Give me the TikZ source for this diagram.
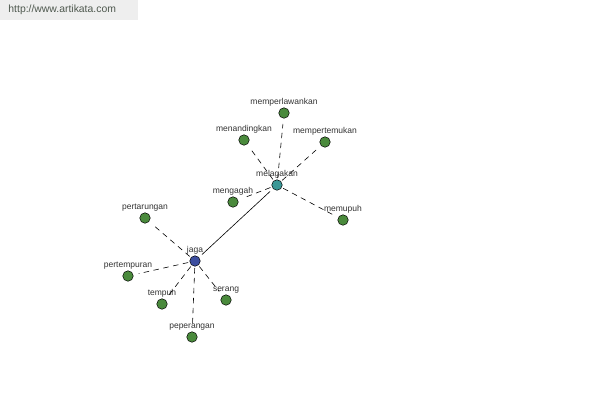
\documentclass[tikz,border=0pt]{standalone}
\usepackage{fontspec}
\setmainfont{Liberation Sans}
\usetikzlibrary{positioning}
\definecolor{leafgreen}{HTML}{4A8A3C}
\definecolor{rootblue}{HTML}{3C4EA0}
\definecolor{hubteal}{HTML}{3A9896}
\definecolor{urlgray}{HTML}{4E584E}
\definecolor{urlbg}{HTML}{EEEEEE}

\begin{document}
\begin{tikzpicture}[
        x=1pt, y=-1pt,
        every node/.style={font=\fontsize{8.5}{10}\selectfont, text=black!80},
        word/.style={circle, draw=black, line width=0.5pt, minimum size=10.5pt, inner sep=0pt,
            label={[inner sep=1pt, yshift=0pt]above:#1}},
        leaf/.style={word=#1, fill=leafgreen},
        rootword/.style={word=#1, fill=rootblue},
        hubword/.style={word=#1, fill=hubteal},
        rel/.style={dash pattern=on 5.5pt off 4.5pt, line width=0.6pt, shorten <=7pt, shorten >=11pt},
        link/.style={line width=0.6pt},
    ]
    \useasboundingbox[fill=white] (0,0) rectangle (600,400);

    %% ===== Source banner =====
    \node[fill=urlbg, minimum width=138pt, minimum height=20pt, inner sep=0pt, anchor=north west,
        font=\fontsize{10.4}{12}\selectfont, text=urlgray] (url) at (0,0) {\hspace*{-14pt}http://www.artikata.com};

    %% ===== Main words =====
    \node[rootword=jaga] (jaga) at (195,261) {};
    \node[hubword=melagakan] (melagakan) at (277,185) {};
    \draw[link, shorten <=4pt, shorten >=4pt] (jaga) -- (melagakan);

    %% ===== Words around melagakan =====
    \node[leaf=memperlawankan] (memperlawankan) at (284,113) {};
    \node[leaf=menandingkan] (menandingkan) at (244,140) {};
    \node[leaf=mempertemukan] (mempertemukan) at (325,142) {};
    \node[leaf=mengagah] (mengagah) at (233,202) {};
    \node[leaf=memupuh] (memupuh) at (343,220) {};

    \foreach \w in {memperlawankan, menandingkan, mempertemukan, mengagah, memupuh}
        \draw[rel] (melagakan.center) -- (\w.center);

    %% ===== Words around jaga =====
    \node[leaf=pertarungan] (pertarungan) at (145,218) {};
    \node[leaf=pertempuran] (pertempuran) at (128,276) {};
    \node[leaf=tempuh] (tempuh) at (162,304) {};
    \node[leaf=serang] (serang) at (226,300) {};
    \node[leaf=peperangan] (peperangan) at (192,337) {};

    \foreach \w in {pertarungan, pertempuran, tempuh, serang, peperangan}
        \draw[rel] (jaga.center) -- (\w.center);

\end{tikzpicture}
\end{document}
